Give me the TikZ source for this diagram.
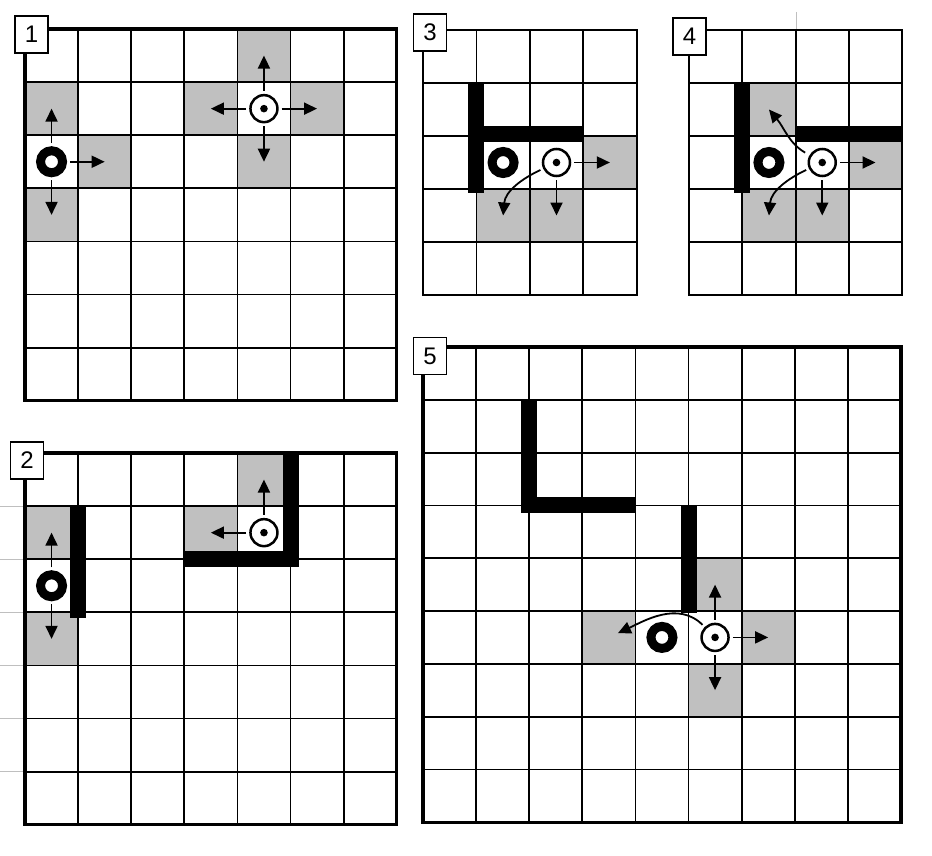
\documentclass[tikz,border=0pt]{standalone}
\usepackage{fontspec}
\setmainfont{Liberation Sans}
\usepackage{tikz}
\usetikzlibrary{arrows.meta}
\definecolor{cellgray}{RGB}{192,192,192}
\tikzstyle{seen}=[fill=cellgray, inner sep=0pt, minimum width=53pt, minimum height=53pt]
\tikzstyle{gridline}=[line width=1.8pt]
\tikzstyle{frame}=[line width=3.2pt]
\tikzstyle{wall}=[line width=16pt, line join=miter]
\tikzstyle{agent}=[circle, draw, line width=9pt, inner sep=0pt, minimum size=22pt]
\tikzstyle{goal}=[circle, draw, line width=2.5pt, inner sep=0pt, minimum size=27pt, path picture={\fill (path picture bounding box.center) circle (3.8pt);}]
\tikzstyle{move}=[line width=1.8pt, -{Triangle[length=13pt,width=12pt]}, shorten <=3pt]
\tikzstyle{tag}=[draw, fill=white, line width=1.2pt, inner sep=0pt, minimum width=33pt, minimum height=37pt, font=\fontsize{24}{24}\selectfont]
\tikzstyle{faint}=[line width=1pt, black!25]

\begin{document}
\begin{tikzpicture}[x=1pt, y=-1pt]
    \useasboundingbox (0,0) rectangle (932,856);

    % 1
    \begin{scope}[shift={(25,29)}, x=53.1pt, y=-53.1pt]
        \node[seen] (S1a) at (0.5,1.5) {};
        \node[seen] (S1b) at (1.5,2.5) {};
        \node[seen] (S1c) at (0.5,3.5) {};
        \node[seen] (S1d) at (4.5,0.5) {};
        \node[seen] (S1e) at (3.5,1.5) {};
        \node[seen] (S1f) at (5.5,1.5) {};
        \node[seen] (S1g) at (4.5,2.5) {};
        \foreach \i in {1,...,6}
            \draw[gridline] (\i,0) -- (\i,7) (0,\i) -- (7,\i);
        \draw[frame] (0,0) rectangle (7,7);
        \node[agent] (O1) at (0.5,2.5) {};
        \node[goal]  (T1) at (4.5,1.5) {};
        \draw[move] (O1) -- (S1a.center);
        \draw[move] (O1) -- (S1b.center);
        \draw[move] (O1) -- (S1c.center);
        \draw[move] (T1) -- (S1d.center);
        \draw[move] (T1) -- (S1e.center);
        \draw[move] (T1) -- (S1f.center);
        \draw[move] (T1) -- (S1g.center);
    \end{scope}

    % 2
    \foreach \i in {1,...,6}
        \draw[faint] (0,453+53.1*\i) -- (25,453+53.1*\i);
    \begin{scope}[shift={(25,453)}, x=53.1pt, y=-53.1pt]
        \node[seen] (S2a) at (0.5,1.5) {};
        \node[seen] (S2b) at (0.5,3.5) {};
        \node[seen] (S2c) at (4.5,0.5) {};
        \node[seen] (S2d) at (3.5,1.5) {};
        \foreach \i in {1,...,6}
            \draw[gridline] (\i,0) -- (\i,7) (0,\i) -- (7,\i);
        \draw[frame] (0,0) rectangle (7,7);
        \draw[wall] (1,1) -- (1,3.1);
        \draw[wall] (5,0) -- (5,2) -- (3,2);
        \node[agent] (O2) at (0.5,2.5) {};
        \node[goal]  (T2) at (4.5,1.5) {};
        \draw[move] (O2) -- (S2a.center);
        \draw[move] (O2) -- (S2b.center);
        \draw[move] (T2) -- (S2c.center);
        \draw[move] (T2) -- (S2d.center);
    \end{scope}

    % 3
    \begin{scope}[shift={(423,30)}, x=53.4pt, y=-53pt]
        \node[seen] (S3a) at (3.5,2.5) {};
        \node[seen] (S3b) at (1.5,3.5) {};
        \node[seen] (S3c) at (2.5,3.5) {};
        \foreach \i in {1,...,3}
            \draw[gridline] (\i,0) -- (\i,5);
        \foreach \i in {1,...,4}
            \draw[gridline] (0,\i) -- (4,\i);
        \draw[frame, line width=2.2pt] (0,0) rectangle (4,5);
        \draw[wall] (1,1) -- (1,3.07);
        \draw[wall] (1,1.97) -- (3,1.97);
        \node[agent] (O3) at (1.5,2.5) {};
        \node[goal]  (T3) at (2.5,2.5) {};
        \draw[move] (T3) -- (S3a.center);
        \draw[move] (T3) -- (S3c.center);
        \draw[move] (T3) to[out=205, in=85] (S3b.center);
    \end{scope}

    % 4
    \draw[faint] (796,12) -- (796,30);
    \begin{scope}[shift={(689,30)}, x=53.3pt, y=-53pt]
        \node[seen] (S4a) at (1.5,1.5) {};
        \node[seen] (S4b) at (3.5,2.5) {};
        \node[seen] (S4c) at (1.5,3.5) {};
        \node[seen] (S4d) at (2.5,3.5) {};
        \foreach \i in {1,...,3}
            \draw[gridline] (\i,0) -- (\i,5);
        \foreach \i in {1,...,4}
            \draw[gridline] (0,\i) -- (4,\i);
        \draw[frame, line width=2.2pt] (0,0) rectangle (4,5);
        \draw[wall] (1,1) -- (1,3.07);
        \draw[wall] (2,1.97) -- (4,1.97);
        \node[agent] (O4) at (1.5,2.5) {};
        \node[goal]  (T4) at (2.5,2.5) {};
        \draw[move] (T4) -- (S4b.center);
        \draw[move] (T4) -- (S4d.center);
        \draw[move, shorten <=5pt] (T4) to[out=150, in=-50] (S4a.center);
        \draw[move] (T4) to[out=205, in=85] (S4c.center);
    \end{scope}

    % 5
    \begin{scope}[shift={(423,347)}, x=53.1pt, y=-52.8pt]
        \node[seen] (S5a) at (5.5,4.5) {};
        \node[seen] (S5b) at (3.5,5.5) {};
        \node[seen] (S5c) at (6.5,5.5) {};
        \node[seen] (S5d) at (5.5,6.5) {};
        \foreach \i in {1,...,8}
            \draw[gridline] (\i,0) -- (\i,9) (0,\i) -- (9,\i);
        \draw[frame] (0,0) rectangle (9,9);
        \draw[wall] (2,1) -- (2,3) -- (4,3);
        \draw[wall] (5,3) -- (5,5.03);
        \node[agent] (O5) at (4.5,5.5) {};
        \node[goal]  (T5) at (5.5,5.5) {};
        \draw[move] (T5) -- (S5a.center);
        \draw[move] (T5) -- (S5c.center);
        \draw[move] (T5) -- (S5d.center);
        \draw[move, shorten >=10pt] (T5) to[out=135, in=25] (S5b.center);
    \end{scope}

    \node[tag] (N1) at (31.5,34.5) {1};
    \node[tag] (N2) at (27,460.5) {2};
    \node[tag] (N3) at (430,32.5) {3};
    \node[tag] (N4) at (689.5,36.5) {4};
    \node[tag] (N5) at (430,356) {5};
\end{tikzpicture}
\end{document}
